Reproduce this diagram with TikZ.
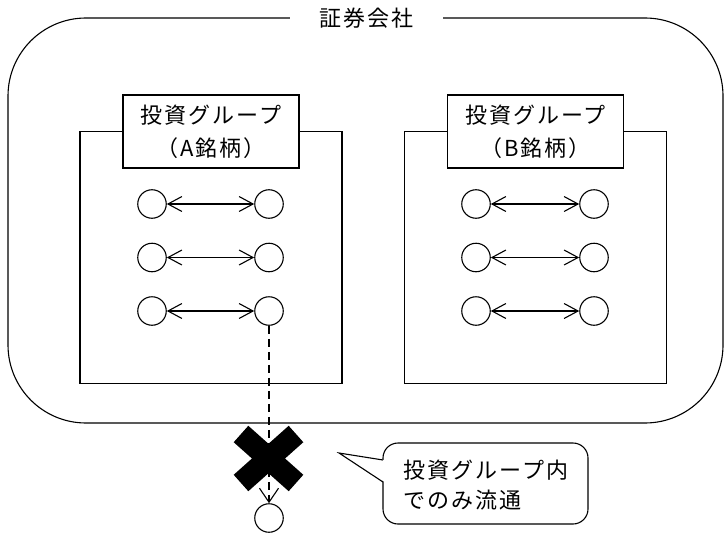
\documentclass[tikz,border=0pt]{standalone}
\usepackage{fontspec}
\setmainfont{Noto Sans CJK JP}[LetterSpace=9]
\usetikzlibrary{arrows.meta}
\begin{document}
\begin{tikzpicture}[x=1pt,y=-1pt, line width=1.1pt,
  circ/.style={circle, draw, minimum size=28.5pt, inner sep=0pt},
  grpbox/.style={draw, minimum width=262pt, minimum height=252pt, inner sep=0pt},
  lbl/.style={draw, fill=white, minimum width=176pt, minimum height=73pt, inner sep=0pt, align=center, font=\fontsize{22}{33}\selectfont},
  jptext/.style={font=\fontsize{22}{30}\selectfont, inner sep=0pt},
  pair/.style={{Straight Barb[length=14pt,width=15pt]}-{Straight Barb[length=14pt,width=15pt]}},
  cross/.style={line width=22pt, line cap=butt},
 ]
\useasboundingbox (0,0) rectangle (727,532);
% outer company box
\draw[rounded corners=78pt] (8,18) rectangle (723,423);
\node[jptext, fill=white, minimum width=153pt, minimum height=14pt] (title) at (366.5,18) {証券会社};
% group boxes
\node[grpbox] (grpA) at (211,257.5) {};
\node[grpbox] (grpB) at (535.5,257.5) {};
\node[lbl] (lblA) at (211,131.5) {投資グループ\\（A銘柄）};
\node[lbl] (lblB) at (535.5,131.5) {投資グループ\\（B銘柄）};
% circles A
\node[circ] (a1l) at (152,204) {};
\node[circ] (a1r) at (269,204) {};
\node[circ] (a2l) at (152,257.5) {};
\node[circ] (a2r) at (269,257.5) {};
\node[circ] (a3l) at (152,311) {};
\node[circ] (a3r) at (269,311) {};
% circles B
\node[circ] (b1l) at (476,204) {};
\node[circ] (b1r) at (594,204) {};
\node[circ] (b2l) at (476,257.5) {};
\node[circ] (b2r) at (594,257.5) {};
\node[circ] (b3l) at (476,311) {};
\node[circ] (b3r) at (594,311) {};
\draw[pair] (a1l) -- (a1r);
\draw[pair] (a2l) -- (a2r);
\draw[pair] (a3l) -- (a3r);
\draw[pair] (b1l) -- (b1r);
\draw[pair] (b2l) -- (b2r);
\draw[pair] (b3l) -- (b3r);
% outside circle and blocked transfer
\node[circ] (bot) at (269,518) {};
\draw[cross] (241,434) -- (296,483);
\draw[cross] (296,434) -- (241,483);
\draw[dash pattern=on 8pt off 5pt, -{Straight Barb[length=14pt,width=19pt]}] (a3r) -- (bot);
% callout
\node[draw, rounded corners=15pt, minimum width=205pt, minimum height=81pt, inner sep=0pt] (bubble) at (485.5,483.5) {};
\coordinate (tip) at (339,453);
\coordinate (tailtop) at (383,460);
\coordinate (tailbot) at (383,482);
\fill[white] ([xshift=1.5pt]tailtop) -- (tip) -- ([xshift=1.5pt]tailbot) -- cycle;
\draw[line join=miter] (tailtop) -- (tip) -- (tailbot);
\node[jptext, anchor=west, align=left] (calltext) at (403,485) {投資グループ内\\でのみ流通};
\end{tikzpicture}
\end{document}
